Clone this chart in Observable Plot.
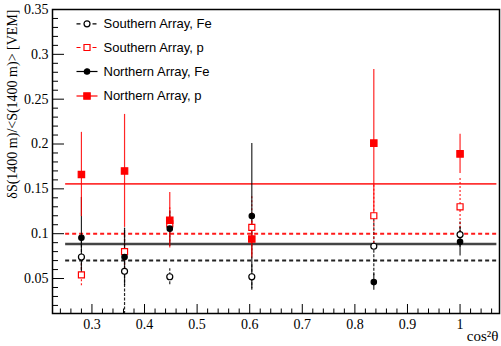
<!DOCTYPE html>
<html>
<head>
<meta charset="utf-8">
<script src="https://cdn.jsdelivr.net/npm/d3@7"></script>
<script src="https://cdn.jsdelivr.net/npm/@observablehq/plot@0.6"></script>
<style>
  html, body { margin: 0; padding: 0; background: #ffffff; }
  #chart { width: 501px; height: 346px; }
</style>
</head>
<body>
<div id="chart"></div>
<script>
// ---- data ----
const cos2 = [0.280, 0.362, 0.448, 0.604, 0.836, 1.000];

const southFe    = [0.074, 0.058, 0.052, 0.052, 0.086, 0.099];
const southFeErr = [0.020, 0.048, 0.009, 0.015, 0.033, 0.014];
const southP     = [0.054, 0.080, 0.111, 0.107, 0.120, 0.130];
const southPErr  = [0.012, 0.020, 0.020, 0.035, 0.035, 0.033];
const northFe    = [0.0955, 0.074, 0.1056, 0.1196, 0.046, 0.091];
const northFeErr = [0.045, 0.032, 0.020, 0.081, 0.009, 0.016];
const northP     = [0.166, 0.170, 0.115, 0.094, 0.201, 0.189];
const northPErr  = [0.047, 0.063, 0.031, 0.020, 0.082, 0.022];

const seriesNames = ["Southern Array, Fe", "Southern Array, p", "Northern Array, Fe", "Northern Array, p"];
const meanValues  = [0.070, 0.100, 0.0884, 0.1556];
const meanRange   = [0.25, 1.07];

const xTicks = [0.3, 0.4, 0.5, 0.6, 0.7, 0.8, 0.9, 1.0];
const xTickLabels = ["0.3", "0.4", "0.5", "0.6", "0.7", "0.8", "0.9", "1"];
const yTicks = [0.05, 0.1, 0.15, 0.2, 0.25, 0.3, 0.35];
const yTickLabels = ["0.05", "0.1", "0.15", "0.2", "0.25", "0.3", "0.35"];
const xTitle = "cos\u00B2\u03B8";
const yTitle = "\u03B4S(1400 m)/<S(1400 m)> [VEM]";

// ---- styles ----
const styles = [
  {color: "#000000", dash: "3,1.5", symbol: "circle", fill: "none", r: 3.0, lineDash: "4,3", lineColor: "#222222", lineWidth: 2},
  {color: "#ff0000", dash: "2,2",   symbol: "square", fill: "none", r: 3.4, lineDash: "4,3", lineColor: "#ff1a1a", lineWidth: 2},
  {color: "#000000", dash: null,    symbol: "circle", fill: "#000000", r: 2.7, lineDash: null, lineColor: "#444444", lineWidth: 2.5},
  {color: "#ff0000", dash: null,    symbol: "square", fill: "#ff0000", r: 3.6, lineDash: null, lineColor: "#ff3333", lineWidth: 1.6}
];
const values = [southFe, southP, northFe, northP];
const errors = [southFeErr, southPErr, northFeErr, northPErr];

const series = seriesNames.map((name, s) =>
  cos2.map((x, i) => ({x, y: values[s][i], lo: values[s][i] - errors[s][i], hi: values[s][i] + errors[s][i]}))
);
const means = meanValues.map((v, s) => ({v, x1: meanRange[0], x2: meanRange[1], s}));

const yDomain = [0.011, 0.35];
const xDomain = [0.225, 1.075];
const W = 501, H = 346, mL = 52, mR = 2, mT = 9, mB = 33;
const plotW = W - mL - mR, plotH = H - mT - mB;

const xMinor = d3.range(0.24, 1.0751, 0.02).filter(v => !xTicks.some(t => Math.abs(t - v) < 1e-6));
const yMinor = d3.range(0.02, 0.3501, 0.01).filter(v => !yTicks.some(t => Math.abs(t - v) < 1e-6));

const marks = [];

// mean lines
means.forEach((m, s) => {
  marks.push(Plot.ruleY([m], {
    y: "v", x1: "x1", x2: "x2",
    stroke: styles[s].lineColor, strokeWidth: styles[s].lineWidth,
    strokeDasharray: styles[s].lineDash
  }));
});

// error bars
series.forEach((data, s) => {
  marks.push(Plot.ruleX(data, {
    x: "x", y1: "lo", y2: "hi",
    stroke: styles[s].color, strokeWidth: 1.2, strokeOpacity: 0.85,
    strokeDasharray: styles[s].dash, clip: true
  }));
});

// markers
series.forEach((data, s) => {
  marks.push(Plot.dot(data, {
    x: "x", y: "y", symbol: styles[s].symbol, r: styles[s].r,
    fill: styles[s].fill === "none" ? "#ffffff" : styles[s].fill,
    stroke: styles[s].color, strokeWidth: 1.2
  }));
});

// frame and ticks (ROOT style, ticks inside)
marks.push(Plot.frame({stroke: "#000000", strokeWidth: 1.5}));
marks.push(Plot.tickY(yTicks, {y: d => d, insetRight: plotW - 12, stroke: "#000", strokeWidth: 1}));
marks.push(Plot.tickY(yMinor, {y: d => d, insetRight: plotW - 6, stroke: "#000", strokeWidth: 1}));
marks.push(Plot.tickX(xTicks, {x: d => d, insetTop: plotH - 9, stroke: "#000", strokeWidth: 1}));
marks.push(Plot.tickX(xMinor, {x: d => d, insetTop: plotH - 4.5, stroke: "#000", strokeWidth: 1}));

// tick labels
marks.push(Plot.text(yTicks, {y: d => d, text: yTickLabels, frameAnchor: "left", textAnchor: "end", dx: -4,
  fontFamily: "Liberation Serif", fontSize: 14, fill: "#000"}));
marks.push(Plot.text(xTicks, {x: d => d, text: xTickLabels, frameAnchor: "bottom", lineAnchor: "middle", dy: 11,
  fontFamily: "Liberation Serif", fontSize: 14, fill: "#000"}));

// axis titles
marks.push(Plot.text([xTitle], {text: d => d, frameAnchor: "bottom-right", textAnchor: "end", lineAnchor: "middle",
  dx: -1, dy: 23, fontFamily: "Liberation Serif", fontSize: 15, fill: "#000"}));
marks.push(Plot.text([yTitle], {text: d => d, frameAnchor: "top-left", textAnchor: "end", lineAnchor: "middle",
  rotate: -90, dx: -40, dy: 0, fontFamily: "Liberation Serif", fontSize: 14, fill: "#000"}));

// legend
const lineSymbol = {draw(ctx) { ctx.moveTo(-10.5, 0); ctx.lineTo(10.5, 0); }};
const legendDy = [14.3, 38, 62, 86.5];
seriesNames.forEach((name, s) => {
  const st = styles[s];
  marks.push(Plot.dot([name], {frameAnchor: "top-left", dx: 34.5, dy: legendDy[s], symbol: lineSymbol, r: 5,
    fill: "none", stroke: st.color, strokeWidth: 1.2, strokeDasharray: st.dash ? "4,4" : null}));
  marks.push(Plot.dot([name], {frameAnchor: "top-left", dx: 34.5, dy: legendDy[s], symbol: st.symbol, r: st.r,
    fill: st.fill === "none" ? "#ffffff" : st.fill, stroke: st.color, strokeWidth: 1.2}));
  marks.push(Plot.text([name], {text: d => d, frameAnchor: "top-left", dx: 51, dy: legendDy[s], textAnchor: "start",
    lineAnchor: "middle", fontFamily: "Liberation Sans", fontSize: 13, fill: "#000"}));
});

const chart = Plot.plot({
  width: W, height: H,
  marginLeft: mL, marginRight: mR, marginTop: mT, marginBottom: mB,
  x: {domain: xDomain, axis: null},
  y: {domain: yDomain, axis: null},
  style: {background: "#ffffff", overflow: "visible"},
  marks
});
document.getElementById("chart").appendChild(chart);
</script>
</body>
</html>
